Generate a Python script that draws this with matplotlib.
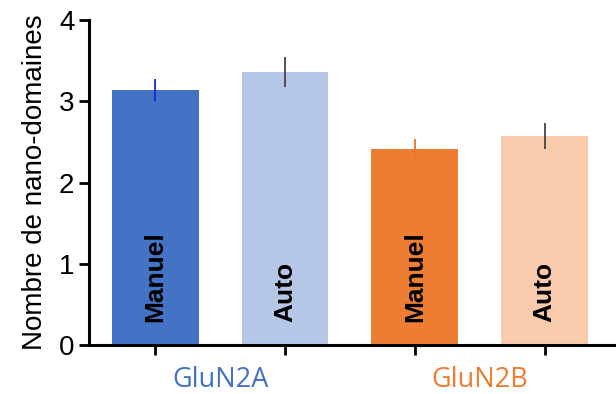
import matplotlib
matplotlib.use("Agg")
import matplotlib.pyplot as plt

groups = ["GluN2A", "GluN2B"]
bar_labels = ["Manuel", "Auto", "Manuel", "Auto"]
values = [3.14, 3.36, 2.41, 2.57]
errors = [0.14, 0.18, 0.12, 0.16]
bar_colors = ["#4472C4", "#B4C7E7", "#ED7D31", "#F8CBAD"]
err_colors = ["#1a2bd0", "#444444", "#F07020", "#444444"]
group_colors = ["#4472C4", "#ED7D31"]
yticks = [0, 1, 2, 3, 4]

fig = plt.figure(figsize=(6.16, 3.94), dpi=100)
ax = fig.add_axes([0.1445, 0.1244, 0.8555, 0.8248])

x = list(range(len(values)))
ax.bar(x, values, width=0.67, color=bar_colors, zorder=2)
for xi, v, e, c in zip(x, values, errors, err_colors):
    ax.errorbar(xi, v, yerr=e, fmt="none", ecolor=c, elinewidth=1.3, capsize=0, zorder=3)
for xi, lab in zip(x, bar_labels):
    ax.text(xi, 0.28, lab, rotation=90, ha="center", va="bottom",
            fontsize=19, fontweight="bold", family="Liberation Sans", color="black", zorder=4)

ax.set_xlim(-0.51, 3.55)
ax.set_ylim(0, 4)
ax.set_yticks(yticks)
ax.set_yticklabels([str(t) for t in yticks], fontsize=20, family="Liberation Sans")
ax.set_xticks(x)
ax.set_xticklabels([""] * len(x))
ax.tick_params(axis="both", width=2, length=7, direction="out")
for s in ["top", "right"]:
    ax.spines[s].set_visible(False)
for s in ["left", "bottom"]:
    ax.spines[s].set_linewidth(2.2)

ax.set_ylabel("Nombre de nano-domaines", fontsize=20, family="Liberation Sans", labelpad=8)

for gi, (g, c) in enumerate(zip(groups, group_colors)):
    ax.text(2 * gi + 0.5, -0.43, g, ha="center", va="center", color=c,
            fontsize=19.5, family="Open Sans", transform=ax.transData)

fig.savefig("out.png", dpi=100)
